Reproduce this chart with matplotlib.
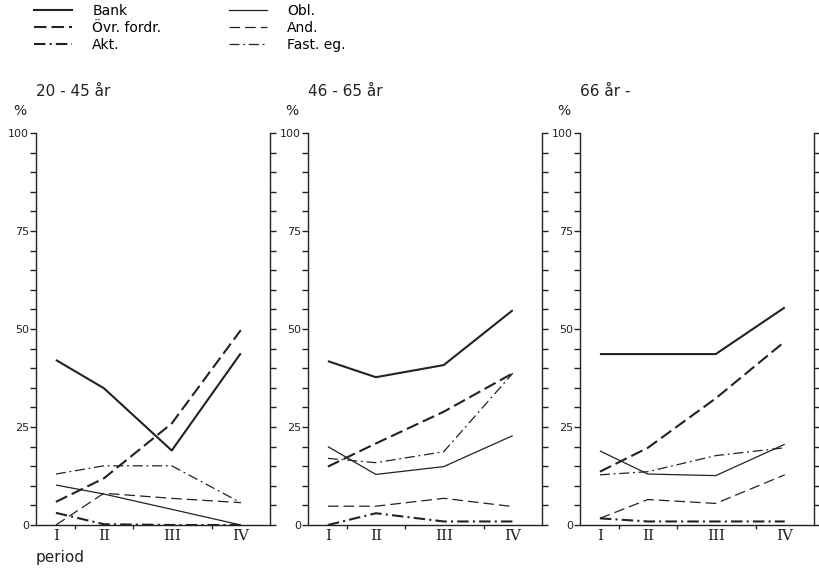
import matplotlib
matplotlib.use('Agg')
import matplotlib.pyplot as plt
from matplotlib.lines import Line2D

# ---- data ----
periods = ['I', 'II', 'III', 'IV']
period_pos = [0.085, 0.29, 0.58, 0.875]
boundary_pos = [0.167, 0.416, 0.75]
age_groups = ['20 - 45 år', '46 - 65 år', '66 år -']
series_names = ['Bank', 'Övr. fordr.', 'Akt.', 'Obl.', 'And.', 'Fast. eg.']

bank = [[42.1, 34.9, 19.0, 43.8], [41.8, 37.7, 40.8, 54.8], [43.6, 43.6, 43.6, 55.5]]
ovr_fordr = [[5.9, 11.9, 25.9, 49.7], [14.9, 20.8, 28.9, 38.7], [13.6, 19.7, 32.3, 46.8]]
akt = [[3.1, 0.2, 0.0, 0.0], [0.0, 3.0, 0.9, 0.9], [1.7, 0.9, 0.9, 0.9]]
obl = [[10.2, 7.9, 4.0, 0.0], [20.0, 12.9, 14.9, 22.8], [18.9, 13.0, 12.6, 20.6]]
andel = [[0.0, 8.1, 6.8, 5.7], [4.8, 4.8, 6.8, 4.7], [1.7, 6.5, 5.5, 12.8]]
fast_eg = [[13.0, 15.1, 15.1, 5.7], [17.0, 15.9, 18.7, 38.7], [12.8, 13.6, 17.7, 19.7]]

all_series = [bank, ovr_fordr, akt, obl, andel, fast_eg]

# ---- styles ----
col = '#222222'
styles = [
    dict(lw=1.5, ls='-'),
    dict(lw=1.5, ls=(0, (6.0, 2.4))),
    dict(lw=1.5, ls=(0, (5.5, 2.0, 1.0, 2.0))),
    dict(lw=0.9, ls='-'),
    dict(lw=0.9, ls=(0, (8.5, 4.0))),
    dict(lw=0.9, ls=(0, (8.0, 3.0, 1.5, 3.0))),
]

plt.rcParams['font.family'] = ['DejaVu Sans']
W, H = 819, 573
fig = plt.figure(figsize=(W / 100, H / 100), dpi=100)

lefts = [36, 308, 580]
ax_w = 234
bottom = 525
top = 133

for k, left in enumerate(lefts):
    ax = fig.add_axes([left / W, (H - bottom) / H, ax_w / W, (bottom - top) / H])
    for s, st in zip(all_series, styles):
        ax.plot(period_pos, s[k], color=col, clip_on=False,
                solid_capstyle='butt', dash_capstyle='butt', **st)
    ax.set_xlim(0, 1)
    ax.set_ylim(0, 100)
    ax.spines['top'].set_visible(False)
    for sp in ['left', 'right', 'bottom']:
        ax.spines[sp].set_linewidth(1.0)
        ax.spines[sp].set_color(col)
    ax.set_xticks(period_pos)
    ax.set_xticklabels(periods, family='DejaVu Serif', fontsize=11)
    ax.set_xticks(boundary_pos, minor=True)
    ax.tick_params(axis='x', which='major', length=0, pad=3, colors=col)
    ax.tick_params(axis='x', which='minor', length=3, width=1.0, direction='out', colors=col)
    ax.set_yticks([0, 25, 50, 75, 100])
    ax.set_yticks(list(range(5, 100, 5)), minor=True)
    ax.yaxis.set_ticks_position('both')
    ax.tick_params(axis='y', which='both', direction='out', length=4, width=1.0,
                   colors=col, labelsize=8, pad=1, labelright=False)
    ax.text(0.0, 1.105, age_groups[k], transform=ax.transAxes, fontsize=11,
            ha='left', va='center', color=col)
    ax.text(-0.07, 1.056, '%', transform=ax.transAxes, fontsize=10,
            ha='center', va='center', color=col)
    if k == 0:
        ax.text(0.0, -0.084, 'period', transform=ax.transAxes, fontsize=11,
                ha='left', va='center', color=col)

handles = [Line2D([], [], color=col, **st) for st in styles]
leg_kw = dict(loc='upper left', frameon=False, fontsize=10, handlelength=2.7,
              handletextpad=1.5, labelspacing=0.22, borderpad=0, borderaxespad=0)
fig.legend(handles[:3], series_names[:3], bbox_to_anchor=(34 / W, 1 - 4 / H), **leg_kw)
fig.legend(handles[3:], series_names[3:], bbox_to_anchor=(229 / W, 1 - 4 / H), **leg_kw)

fig.savefig('out.png', dpi=100, facecolor='white')
